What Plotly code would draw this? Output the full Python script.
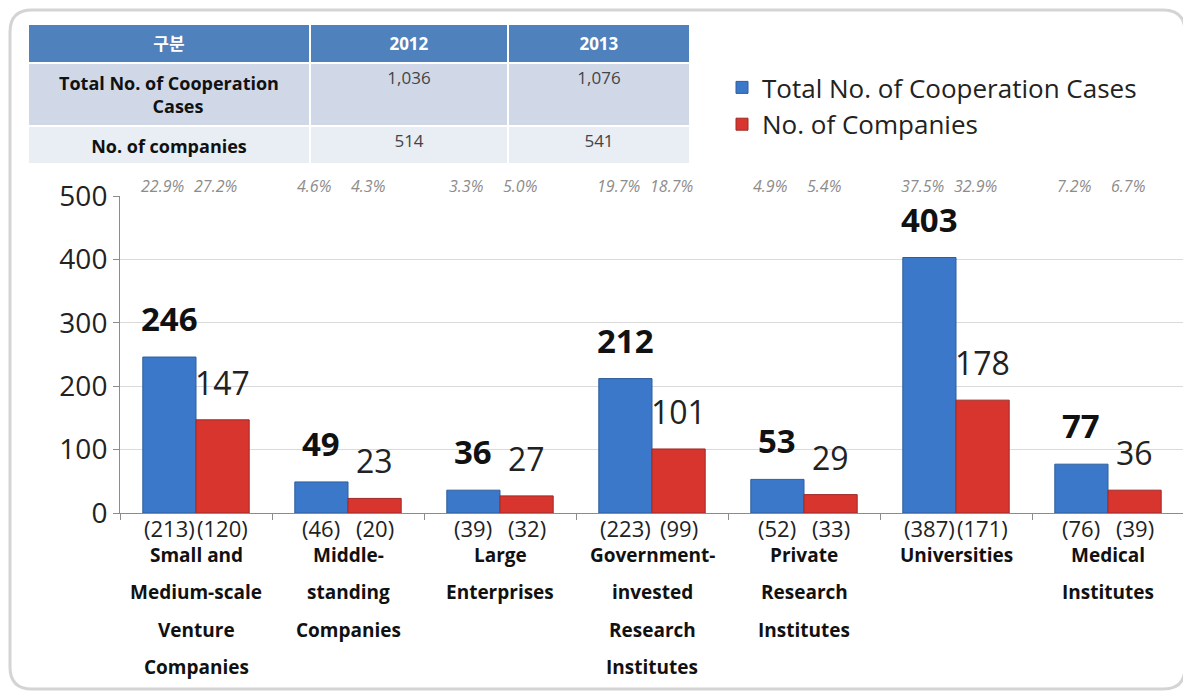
import plotly.graph_objects as go

# ---------------- data ----------------
categories = [
    "Small and<br>Medium-scale<br>Venture<br>Companies",
    "Middle-<br>standing<br>Companies",
    "Large<br>Enterprises",
    "Government-<br>invested<br>Research<br>Institutes",
    "Private<br>Research<br>Institutes",
    "Universities",
    "Medical<br>Institutes",
]
cases_2013 = [246, 49, 36, 212, 53, 403, 77]
companies_2013 = [147, 23, 27, 101, 29, 178, 36]
cases_2012 = [213, 46, 39, 223, 52, 387, 76]
companies_2012 = [120, 20, 32, 99, 33, 171, 39]
cases_share = ["22.9%", "4.6%", "3.3%", "19.7%", "4.9%", "37.5%", "7.2%"]
companies_share = ["27.2%", "4.3%", "5.0%", "18.7%", "5.4%", "32.9%", "6.7%"]

table_header = ["구분", "2012", "2013"]
table_rows = ["Total No. of Cooperation<br>&nbsp;&nbsp;&nbsp;&nbsp;&nbsp;&nbsp;&nbsp;&nbsp;&nbsp;&nbsp;&nbsp;&nbsp;&nbsp;&nbsp;&nbsp;&nbsp;&nbsp;&nbsp;&nbsp;&nbsp;Cases",
              "No. of companies"]
table_2012 = ["1,036", "514"]
table_2013 = ["1,076", "541"]

series_names = ["Total No. of Cooperation Cases", "No. of Companies"]
y_ticks = [0, 100, 200, 300, 400, 500]

# ---------------- style ----------------
FONT = "Open Sans, Noto Sans CJK KR"
OFF = 8                       # page body margin
W, H = 1191 - OFF, 696 - OFF
BLUE, BLUE_LINE = "#3B78C9", "#2E5E9E"
RED, RED_LINE = "#D8352F", "#9E2A26"

def px_x(p):
    return (p - OFF) / W

def px_y(p):
    return 1 - (p - OFF) / H

fig = go.Figure()

fig.add_trace(go.Bar(
    x=categories, y=cases_2013, name=series_names[0],
    marker=dict(color=BLUE, line=dict(color=BLUE_LINE, width=1)),
    legendgroup="a", hoverinfo="y",
))
fig.add_trace(go.Bar(
    x=categories, y=companies_2013, name=series_names[1],
    marker=dict(color=RED, line=dict(color=RED_LINE, width=1)),
    legendgroup="b", hoverinfo="y",
))

# table on top-left
fig.add_trace(go.Table(
    domain=dict(x=[px_x(28), px_x(690)], y=[px_y(164), px_y(24)]),
    columnwidth=[282, 198, 182],
    header=dict(
        values=[f"<b>{h}</b>" for h in table_header],
        fill_color="#4F81BD", line=dict(color="white", width=2),
        font=dict(family=FONT, size=17, color="white"), align="center", height=34,
    ),
    cells=dict(
        values=[[f"<b>{r}</b>" for r in table_rows], table_2012, table_2013],
        fill_color=[["#D0D8E8", "#E9EDF4"]] * 3,
        line=dict(color="white", width=2),
        font=dict(family=FONT, size=[18, 17, 17], color=["#111111", "#444444", "#444444"]),
        align="center", height=38,
    ),
))

ann = []
off = 0.175
for i in range(len(categories)):
    # value labels
    ann.append(dict(x=i - off, y=cases_2013[i], xref="x", yref="y", text=f"<b>{cases_2013[i]}</b>",
                    showarrow=False, yanchor="bottom", yshift=14,
                    font=dict(family=FONT, size=33, color="#111111")))
    ann.append(dict(x=i + off, y=companies_2013[i], xref="x", yref="y", text=f"{companies_2013[i]}",
                    showarrow=False, yanchor="bottom", yshift=14,
                    font=dict(family=FONT, size=32, color="#222222")))
    # 2012 values in parentheses
    ann.append(dict(x=i - off, y=0, xref="x", yref="y", text=f"({cases_2012[i]})",
                    showarrow=False, yanchor="middle", yshift=-15,
                    font=dict(family=FONT, size=22, color="#222222")))
    ann.append(dict(x=i + off, y=0, xref="x", yref="y", text=f"({companies_2012[i]})",
                    showarrow=False, yanchor="middle", yshift=-15,
                    font=dict(family=FONT, size=22, color="#222222")))
    # shares on top
    ann.append(dict(x=i - off, y=500, xref="x", yref="y", text=f"<i>{cases_share[i]}</i>",
                    showarrow=False, yanchor="middle", yshift=10, xshift=-7,
                    font=dict(family=FONT, size=16, color="#8C8C8C")))
    ann.append(dict(x=i + off, y=500, xref="x", yref="y", text=f"<i>{companies_share[i]}</i>",
                    showarrow=False, yanchor="middle", yshift=10, xshift=-7,
                    font=dict(family=FONT, size=16, color="#8C8C8C")))
    # category names, one line per annotation for wide line spacing
    for k, line in enumerate(categories[i].split("<br>")):
        ann.append(dict(x=i, y=0, xref="x", yref="y", text=f"<b>{line}</b>",
                        showarrow=False, yanchor="middle", yshift=-42 - 37.3 * k,
                        font=dict(family=FONT, size=19, color="#111111")))

# rounded outer frame
r_x, r_y = 22 / W, 22 / H
x0, x1 = px_x(10), px_x(1185)
y0, y1 = px_y(689), px_y(10)
frame_path = (
    f"M {x0 + r_x},{y1} L {x1 - r_x},{y1} Q {x1},{y1} {x1},{y1 - r_y} "
    f"L {x1},{y0 + r_y} Q {x1},{y0} {x1 - r_x},{y0} L {x0 + r_x},{y0} "
    f"Q {x0},{y0} {x0},{y0 + r_y} L {x0},{y1 - r_y} Q {x0},{y1} {x0 + r_x},{y1} Z"
)

fig.update_layout(
    width=W, height=H,
    margin=dict(l=0, r=0, t=0, b=0, autoexpand=False),
    paper_bgcolor="white", plot_bgcolor="white",
    barmode="group", bargap=0.3, bargroupgap=0,
    font=dict(family=FONT, color="#222222"),
    xaxis=dict(
        domain=[px_x(120), px_x(1184)], type="category", automargin=False,
        showticklabels=False, showline=True, linecolor="#8C8C8C", linewidth=1,
        ticks="outside", tickson="boundaries", ticklen=6, tickcolor="#8C8C8C",
        showgrid=False, fixedrange=True,
    ),
    yaxis=dict(
        domain=[px_y(513), px_y(196)], range=[0, 500], tickvals=y_ticks, automargin=False,
        showline=True, linecolor="#8C8C8C", linewidth=1,
        ticks="outside", ticklen=6, tickcolor="#8C8C8C",
        showgrid=True, gridcolor="#DADADA", gridwidth=1, zeroline=False,
        tickfont=dict(family=FONT, size=28, color="#222222"),
        fixedrange=True,
    ),
    legend=dict(
        x=px_x(722), y=px_y(64), xanchor="left", yanchor="top",
        font=dict(family=FONT, size=26, color="#222222"),
        bgcolor="rgba(0,0,0,0)", tracegroupgap=0, itemwidth=30,
    ),
    annotations=ann,
    shapes=[dict(type="path", path=frame_path, xref="paper", yref="paper",
                 line=dict(color="#D4D4D4", width=3), fillcolor="rgba(0,0,0,0)", layer="below")],
)

fig.write_html("out.html")
